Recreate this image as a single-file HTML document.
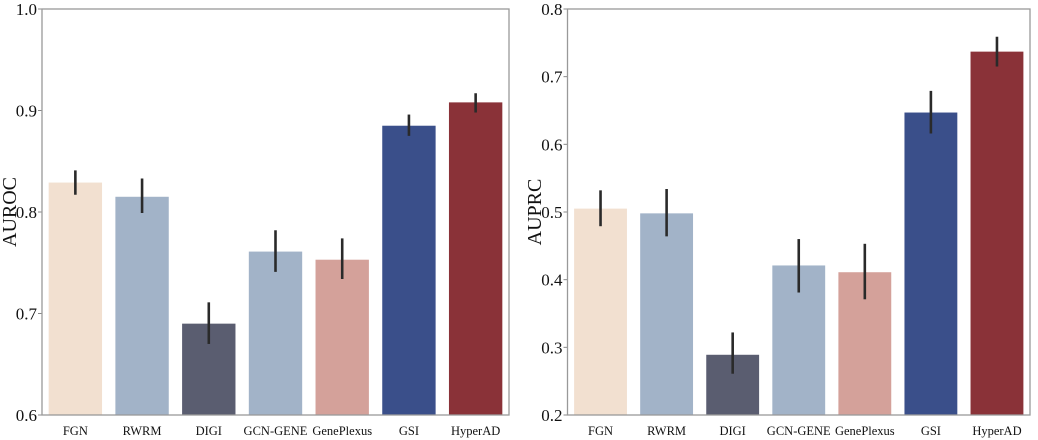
<!DOCTYPE html>
<html><head><meta charset="utf-8"><style>
body{margin:0;background:#fff}
svg{display:block;font-family:"Liberation Serif",serif}
</style></head><body>
<svg id="chart" width="1038" height="440"></svg>
<script>
const categories=["FGN","RWRM","DIGI","GCN-GENE","GenePlexus","GSI","HyperAD"];
const colors=["#f2e0d0","#a2b3c8","#5a5d70","#a2b3c8","#d4a19a","#3a4f8a","#8a3238"];
const aurocValues=[0.829,0.815,0.690,0.761,0.753,0.885,0.908];
const aurocLow=[0.817,0.799,0.670,0.741,0.734,0.875,0.898];
const aurocHigh=[0.841,0.833,0.711,0.782,0.774,0.896,0.917];
const aurocTicks=[0.6,0.7,0.8,0.9,1.0];
const auprcValues=[0.505,0.498,0.289,0.421,0.411,0.647,0.737];
const auprcLow=[0.479,0.464,0.261,0.381,0.371,0.616,0.715];
const auprcHigh=[0.532,0.534,0.322,0.460,0.453,0.679,0.759];
const auprcTicks=[0.2,0.3,0.4,0.5,0.6,0.7,0.8];
const NS="http://www.w3.org/2000/svg";
const svg=document.getElementById('chart');
function mk(tag,attrs,parent){const e=document.createElementNS(NS,tag);for(const k in attrs)e.setAttribute(k,attrs[k]);parent.appendChild(e);return e;}
function panel(name,x0,x1,y0,y1,ymin,ymax,vals,lo,hi,ticks,title,titleX){
  const g=mk('g',{},svg);
  
  
  const n=categories.length,u=(x1-x0)/n;
  const xs=i=>x0+(i+0.5)*u;
  const ys=v=>y1-(v-ymin)/(ymax-ymin)*(y1-y0);
  vals.forEach((v,i)=>{
    const r=mk('rect',{x:xs(i)-0.4*u,y:ys(v),width:0.8*u,height:y1-ys(v),fill:colors[i]},g);
    
    
    const l=mk('line',{x1:xs(i),x2:xs(i),y1:ys(lo[i]),y2:ys(hi[i]),stroke:'#2a2a2a','stroke-width':2.6},g);
    
    
    const t=mk('text',{x:xs(i),y:y1+20,'text-anchor':'middle','font-size':12.5,fill:'#111'},g);
    t.textContent=categories[i];
    
    
  });
  ticks.forEach(v=>{
    mk('line',{x1:x0-4,x2:x0,y1:ys(v),y2:ys(v),stroke:'#888','stroke-width':1},g);
    const t=mk('text',{x:x0-5,y:ys(v)+6,'text-anchor':'end','font-size':17,fill:'#111'},g);
    t.textContent=v.toFixed(1);
    
    
  });
  const f=mk('rect',{x:x0,y:y0,width:x1-x0,height:y1-y0,fill:'none',stroke:'#999','stroke-width':1.3},g);
  
  
  const yt=mk('text',{x:0,y:0,transform:`translate(${titleX},${(y0+y1)/2}) rotate(-90)`,'text-anchor':'middle','font-size':20,fill:'#111'},g);
  yt.textContent=title;
  
  
}
panel('auroc',42,509,9,415,0.6,1.0,aurocValues,aurocLow,aurocHigh,aurocTicks,'AUROC',16);
panel('auprc',567.5,1030,9,415,0.2,0.8,auprcValues,auprcLow,auprcHigh,auprcTicks,'AUPRC',541);
</script>
</body></html>
